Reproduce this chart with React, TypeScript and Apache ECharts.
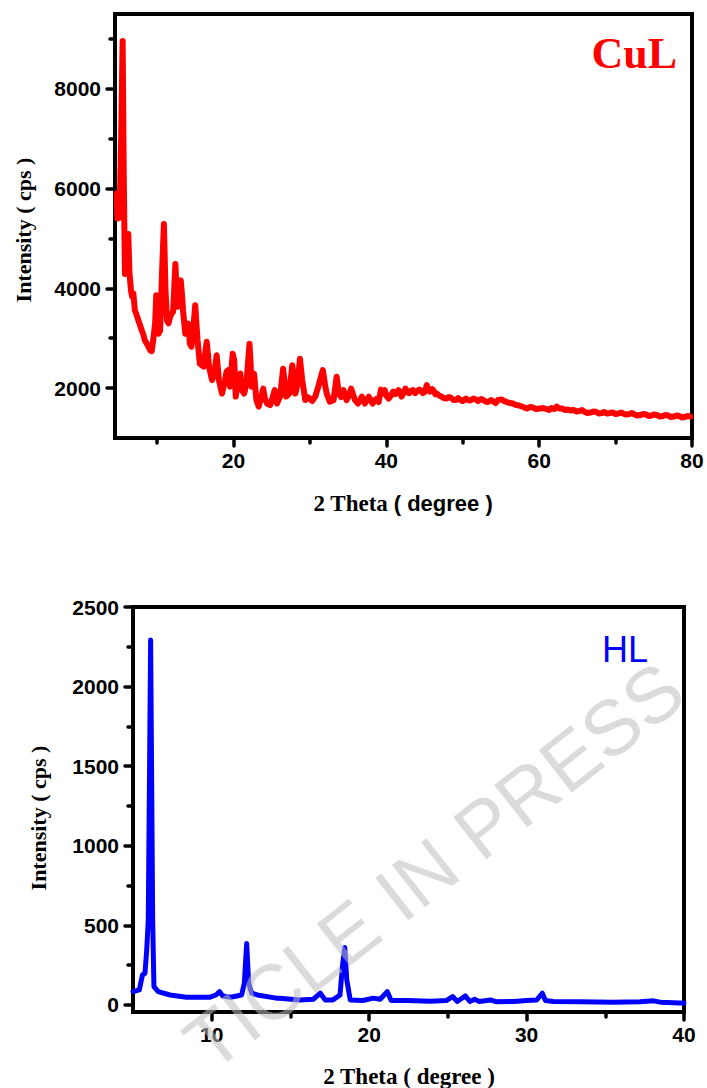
import React, { useEffect, useRef } from 'react';
import * as echarts from 'echarts';

// ---- CuL pattern: [2θ (degree), intensity (cps)] ----
const cuPattern: [number, number][] = [
  [4.7, 5900], [4.8, 5400], [5.1, 5420], [5.3, 7000], [5.5, 8960], [5.65, 6200], [5.8, 4290], [6.0, 4400],
  [6.24, 5090], [6.4, 4290], [6.6, 3950], [6.75, 3830], [6.9, 3900], [7.1, 3560], [7.3, 3480], [7.55, 3360],
  [7.8, 3250], [8.0, 3160], [8.2, 3080], [8.4, 2960], [8.7, 2880], [9.1, 2760], [9.3, 2740], [9.5, 2960],
  [9.75, 3300], [9.9, 3860], [10.05, 3300], [10.2, 3090], [10.4, 3150], [10.65, 4300], [10.9, 5290], [11.1, 4000],
  [11.3, 3360], [11.5, 3300], [11.7, 3420], [11.9, 3490], [12.1, 3530], [12.25, 4000], [12.4, 4490], [12.55, 4000],
  [12.7, 3630], [12.9, 3700], [13.1, 4160], [13.25, 3900], [13.4, 3560], [13.7, 3090], [13.9, 3250], [14.1, 3290],
  [14.3, 2890], [14.5, 2830], [14.75, 3200], [15.0, 3660], [15.15, 3300], [15.3, 2960], [15.6, 2490], [16.1, 2430],
  [16.3, 2700], [16.5, 2930], [16.65, 2700], [16.8, 2430], [17.2, 2160], [17.5, 2300], [17.8, 2660], [18.1, 2160],
  [18.5, 1890], [18.9, 2160], [19.1, 2330], [19.3, 2360], [19.55, 2030], [19.9, 2690], [20.1, 2560], [20.3, 1830],
  [20.7, 2260], [20.9, 2290], [21.1, 1960], [21.4, 1890], [21.7, 2090], [21.9, 2500], [22.1, 2890], [22.4, 2030],
  [22.7, 2290], [23.0, 1760], [23.3, 1630], [23.6, 1800], [23.9, 1990], [24.1, 1800], [24.4, 1690], [24.8, 1660],
  [25.1, 1800], [25.4, 1960], [25.7, 1690], [26.1, 1830], [26.5, 2390], [26.9, 1830], [27.3, 1890], [27.7, 2460],
  [28.1, 1890], [28.4, 2090], [28.7, 2590], [29.0, 2160], [29.4, 1760], [29.7, 1820], [30.0, 1790], [30.3, 1740],
  [30.7, 1830], [31.1, 2030], [31.4, 2200], [31.7, 2360], [32.0, 2050], [32.2, 1890], [32.6, 1730], [33.1, 1760],
  [33.5, 2230], [33.8, 1890], [34.1, 1820], [34.4, 1960], [34.8, 1760], [35.1, 1850], [35.4, 1990], [35.9, 1760],
  [36.3, 1690], [36.8, 1830], [37.2, 1690], [37.7, 1830], [38.2, 1690], [38.5, 1760], [38.8, 1790], [39.0, 1720],
  [39.3, 1970], [39.6, 1900], [39.8, 1960], [40.0, 1850], [40.3, 1790], [40.6, 1850], [40.9, 1930], [41.2, 1880],
  [41.6, 1960], [41.8, 1900], [42.0, 1830], [42.3, 1920], [42.5, 1990], [42.8, 1910], [43.0, 1900], [43.3, 1950],
  [43.5, 1960], [43.8, 1900], [44.0, 1930], [44.3, 1970], [44.5, 1950], [44.8, 1900], [45.0, 1920], [45.3, 2060],
  [45.5, 1960], [45.7, 1930], [46.0, 1980], [46.2, 1950], [46.4, 1880], [46.6, 1890], [46.9, 1850], [47.2, 1830],
  [47.5, 1800], [47.9, 1790], [48.2, 1820], [48.5, 1800], [48.8, 1760], [49.1, 1760], [49.4, 1800], [49.7, 1760],
  [50.0, 1740], [50.4, 1790], [50.7, 1760], [51.0, 1750], [51.4, 1790], [51.7, 1770], [52.0, 1740], [52.4, 1780],
  [52.7, 1760], [53.0, 1730], [53.3, 1720], [53.7, 1760], [54.0, 1730], [54.3, 1700], [54.6, 1760], [55.1, 1770],
  [55.4, 1740], [55.8, 1720], [56.2, 1700], [56.6, 1690], [57.0, 1660], [57.4, 1650], [57.9, 1620], [58.4, 1590],
  [58.8, 1620], [59.2, 1610], [59.6, 1580], [60.1, 1590], [60.5, 1600], [61.0, 1580], [61.3, 1560], [61.6, 1600],
  [62.0, 1580], [62.3, 1630], [62.6, 1590], [63.0, 1590], [63.4, 1560], [63.8, 1570], [64.1, 1550], [64.5, 1560],
  [64.9, 1530], [65.3, 1540], [65.6, 1560], [66.0, 1520], [66.3, 1500], [66.7, 1510], [67.1, 1530], [67.5, 1520],
  [67.8, 1490], [68.2, 1500], [68.5, 1520], [68.9, 1490], [69.2, 1500], [69.6, 1510], [70.0, 1480], [70.3, 1490],
  [70.7, 1510], [71.0, 1490], [71.4, 1470], [71.8, 1480], [72.1, 1500], [72.5, 1470], [72.8, 1450], [73.2, 1460],
  [73.6, 1480], [74.0, 1470], [74.3, 1440], [74.7, 1450], [75.0, 1470], [75.4, 1460], [75.8, 1430], [76.2, 1440],
  [76.5, 1460], [76.9, 1450], [77.2, 1420], [77.6, 1430], [78.0, 1450], [78.3, 1440], [78.7, 1410], [79.0, 1420],
  [79.4, 1440], [79.8, 1430],
];

// ---- HL pattern: [2θ (degree), intensity (cps)] ----
const hlPattern: [number, number][] = [
  [5.0, 83], [5.4, 94], [5.6, 188], [5.76, 198], [5.87, 344], [5.97, 531], [6.12, 2292], [6.25, 531],
  [6.33, 115], [6.6, 83], [7.35, 62], [8.4, 48], [9.9, 48], [10.27, 62], [10.5, 83], [10.7, 56],
  [11.2, 48], [11.9, 62], [12.07, 135], [12.22, 385], [12.35, 135], [12.54, 73], [12.9, 62], [14.1, 42],
  [14.3, 42], [15.6, 31], [16.45, 35], [16.9, 73], [17.2, 31], [17.7, 31], [18.15, 62], [18.3, 240],
  [18.45, 360], [18.58, 156], [18.8, 31], [19.6, 27], [20.27, 42], [20.7, 35], [21.15, 83], [21.4, 27],
  [22.4, 27], [23.9, 23], [24.9, 27], [25.3, 52], [25.6, 21], [26.1, 56], [26.4, 21], [26.7, 35],
  [27.0, 21], [27.7, 31], [28.1, 19], [29.2, 21], [30.0, 27], [30.65, 31], [31.0, 73], [31.2, 27],
  [31.7, 21], [33.4, 19], [35.5, 17], [37.2, 19], [38.05, 25], [38.5, 17], [39.75, 11], [40.0, 12],
];

// ---- axis ticks / labels ----
const cuXLabels = [20, 40, 60, 80];
const cuXMinor = [10, 30, 50, 70];
const cuYLabels = [2000, 4000, 6000, 8000];
const cuYMinor = [3000, 5000, 7000, 9000];
const hlXLabels = [10, 20, 30, 40];
const hlXMinor = [15, 25, 35];
const hlYLabels = [0, 500, 1000, 1500, 2000, 2500];
const hlYMinor = [250, 750, 1250, 1750, 2250];

const SANS = '"Liberation Sans", Arial, sans-serif';
const SERIF = '"Liberation Serif", "Times New Roman", serif';

const tickLine = { color: '#000', width: 3.5, cap: 'round' as const };

function mainAxis(gridIndex: number, position: string, min: number, max: number, labels: number[], margin: number) {
  return {
    type: 'value', gridIndex, position, min, max,
    axisLine: { show: true, onZero: false, lineStyle: { color: '#000', width: 4 } },
    axisTick: { show: true, inside: false, length: 8, customValues: labels, lineStyle: tickLine },
    axisLabel: {
      show: true, customValues: labels, margin,
      formatter: (v: number) => String(v),
      fontFamily: SANS, fontSize: 21, fontWeight: 'bold', color: '#000',
    },
    splitLine: { show: false },
  };
}

function minorAxis(gridIndex: number, position: string, min: number, max: number, ticks: number[]) {
  return {
    type: 'value', gridIndex, position, min, max,
    axisLine: { show: false, onZero: false },
    axisTick: { show: true, inside: false, length: 5, customValues: ticks, lineStyle: tickLine },
    axisLabel: { show: false },
    splitLine: { show: false },
  };
}

export default function App() {
  const ref = useRef<HTMLDivElement>(null);

  useEffect(() => {
    if (!ref.current) return;
    const chart = echarts.init(ref.current, undefined, { renderer: 'svg' });

    const option: any = {
      animation: false,
      backgroundColor: '#fff',
      grid: [
        { left: 115, top: 14, width: 577, height: 424, show: true, borderColor: '#000', borderWidth: 4, outerBoundsMode: 'none' },
        { left: 133, top: 607, width: 551, height: 405, show: true, borderColor: '#000', borderWidth: 4, outerBoundsMode: 'none' },
      ],
      xAxis: [
        mainAxis(0, 'bottom', 4.5, 80, cuXLabels, 12),
        minorAxis(0, 'bottom', 4.5, 80, cuXMinor),
        mainAxis(1, 'bottom', 5, 40, hlXLabels, 12),
        minorAxis(1, 'bottom', 5, 40, hlXMinor),
      ],
      yAxis: [
        mainAxis(0, 'left', 1000, 9500, cuYLabels, 14),
        minorAxis(0, 'left', 1000, 9500, cuYMinor),
        mainAxis(1, 'left', -45, 2500, hlYLabels, 14),
        minorAxis(1, 'left', -45, 2500, hlYMinor),
      ],
      series: [
        {
          type: 'line', xAxisIndex: 0, yAxisIndex: 0, data: cuPattern,
          showSymbol: false, symbol: 'none', silent: true, clip: true,
          lineStyle: { color: '#ff0000', width: 6, join: 'round', cap: 'round' },
        },
        {
          type: 'line', xAxisIndex: 2, yAxisIndex: 2, data: hlPattern,
          showSymbol: false, symbol: 'none', silent: true, clip: true,
          lineStyle: { color: '#0000ff', width: 5, join: 'round', cap: 'round' },
        },
      ],
      graphic: {
        elements: [
          {
            type: 'text', x: 677, y: 53,
            style: { text: 'CuL', font: `bold 44px ${SERIF}`, fill: '#ff0000', align: 'right', verticalAlign: 'middle' },
          },
          {
            type: 'text', x: 648, y: 649,
            style: { text: 'HL', font: `36px ${SANS}`, fill: '#0000ff', align: 'right', verticalAlign: 'middle' },
          },
          {
            type: 'text', x: 23, y: 230, rotation: Math.PI / 2,
            style: { text: 'Intensity ( cps )', font: `bold 22px ${SERIF}`, fill: '#000', align: 'center', verticalAlign: 'middle' },
          },
          {
            type: 'text', x: 38, y: 818, rotation: Math.PI / 2,
            style: { text: 'Intensity ( cps )', font: `bold 22px ${SERIF}`, fill: '#000', align: 'center', verticalAlign: 'middle' },
          },
          {
            type: 'text', x: 403, y: 503,
            style: {
              text: '{a|2 Theta }{b|( degree )}',
              rich: {
                a: { fontFamily: SERIF, fontWeight: 'bold', fontSize: 23, fill: '#000' },
                b: { fontFamily: SANS, fontWeight: 'bold', fontSize: 22, fill: '#000' },
              },
              align: 'center', verticalAlign: 'middle', fill: '#000',
            },
          },
          {
            type: 'text', x: 409, y: 1076,
            style: { text: '2 Theta ( degree )', font: `bold 23px ${SERIF}`, fill: '#000', align: 'center', verticalAlign: 'middle' },
          },
          {
            type: 'text', x: 434, y: 866, rotation: (38 * Math.PI) / 180, z: 100,
            style: { text: 'TICLE IN PRESS', font: `78px ${SANS}`, fill: 'rgba(190,190,190,0.55)', align: 'center', verticalAlign: 'middle' },
          },
        ],
      },
    };

    chart.setOption(option);
    return () => chart.dispose();
  }, []);

  return <div ref={ref} style={{ position: 'absolute', left: 0, top: 0, width: 707, height: 1088 }} />;
}
